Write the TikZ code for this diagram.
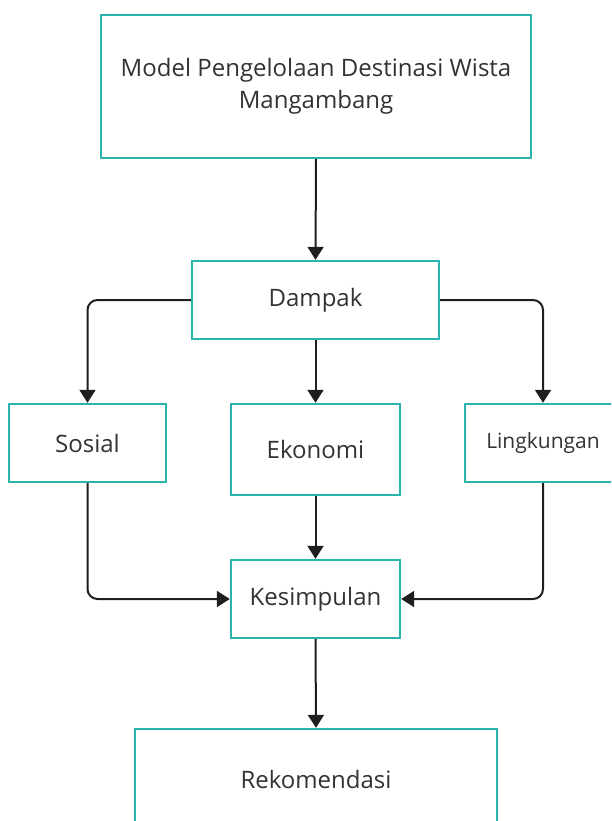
\documentclass[tikz,border=0pt]{standalone}
\usepackage{fontspec}
\setmainfont{Open Sans}
\usetikzlibrary{arrows.meta}
\definecolor{teal1}{RGB}{43,179,173}
\definecolor{ink}{RGB}{51,51,51}
\definecolor{arr}{RGB}{30,30,30}
\tikzset{
  x=1pt,y=-1pt,
  box/.style={draw=teal1,line width=2.4pt,fill=white,text=ink,align=center,inner sep=0pt,font=\fontsize{24}{32}\selectfont},
  conn/.style={draw=arr,line width=2pt,rounded corners=10pt,-{Triangle[length=13pt,width=16pt]}}
}
\begin{document}
\begin{tikzpicture}
\useasboundingbox (0,0) rectangle (611,821);
\clip (0,0) rectangle (611,821);
\node[box,minimum width=430pt,minimum height=143pt] (model) at (316,86.5) {Model Pengelolaan Destinasi Wista\\Mangambang};
\node[box,minimum width=247pt,minimum height=78pt] (dampak) at (315.5,300) {\raisebox{-2pt}{Dampak}};
\node[box,minimum width=157pt,minimum height=78pt] (sosial) at (87.5,443) {Sosial};
\node[box,minimum width=169pt,minimum height=91pt] (ekonomi) at (315.5,449.5) {\raisebox{-2pt}{Ekonomi}};
\node[box,minimum width=156pt,minimum height=78pt,font=\fontsize{21}{28}\selectfont] (lingk) at (543,443) {Lingkungan};
\node[box,minimum width=169pt,minimum height=78pt] (kes) at (315.5,599) {\raisebox{-3pt}{Kesimpulan}};
\node[box,minimum width=362pt,minimum height=100pt] (rek) at (316,779) {Rekomendasi};
\draw[conn] (model.south) -- (dampak.north);
\draw[conn] (dampak.west) -| (sosial.north);
\draw[conn] (dampak.south) -- (ekonomi.north);
\draw[conn] (dampak.east) -| (lingk.north);
\draw[conn] (ekonomi.south) -- (kes.north);
\draw[conn] (sosial.south) |- (kes.west);
\draw[conn] (lingk.south) |- (kes.east);
\draw[conn] (kes.south) -- (rek.north);
\end{tikzpicture}
\end{document}
